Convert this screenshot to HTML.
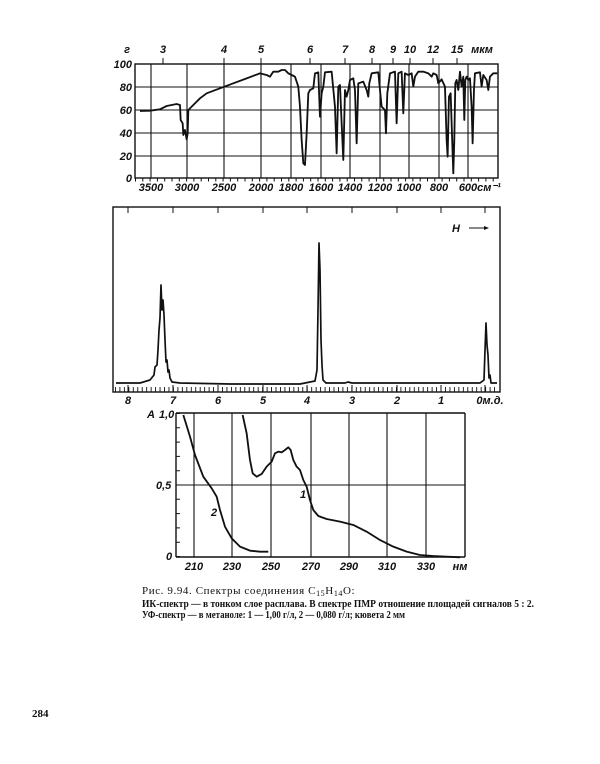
<!DOCTYPE html>
<html><head><meta charset="utf-8"><style>
html,body{margin:0;padding:0;background:#fff}
svg{display:block}
text{font-family:"Liberation Sans",sans-serif;font-style:italic;font-size:11px;fill:#111;font-weight:bold}
.c{font-family:"Liberation Serif","Noto Serif CJK SC",serif;font-style:normal;font-weight:normal}
</style></head><body>
<svg width="600" height="764" viewBox="0 0 600 764" xmlns="http://www.w3.org/2000/svg">
<rect width="600" height="764" fill="#fff"/>
<!-- IR -->
<g stroke="#111" fill="none">
<rect x="135" y="64" width="363" height="114" stroke-width="1.4"/>
<g stroke-width="1.1">
<line x1="135" y1="87" x2="498" y2="87"/><line x1="135" y1="110" x2="498" y2="110"/>
<line x1="135" y1="133" x2="498" y2="133"/><line x1="135" y1="156" x2="498" y2="156"/>
<line x1="151" y1="64" x2="151" y2="178"/><line x1="187" y1="64" x2="187" y2="178"/>
<line x1="224" y1="64" x2="224" y2="178"/><line x1="261" y1="64" x2="261" y2="178"/>
<line x1="291" y1="64" x2="291" y2="178"/><line x1="321" y1="64" x2="321" y2="178"/>
<line x1="350" y1="64" x2="350" y2="178"/><line x1="380" y1="64" x2="380" y2="178"/>
<line x1="409" y1="64" x2="409" y2="178"/><line x1="439" y1="64" x2="439" y2="178"/>
<line x1="468" y1="64" x2="468" y2="178"/>
</g>
<g stroke-width="1">
<line x1="163" y1="58" x2="163" y2="64"/><line x1="224" y1="58" x2="224" y2="64"/>
<line x1="261" y1="58" x2="261" y2="64"/><line x1="310" y1="58" x2="310" y2="64"/>
<line x1="345" y1="58" x2="345" y2="64"/><line x1="372" y1="58" x2="372" y2="64"/>
<line x1="393" y1="58" x2="393" y2="64"/><line x1="410" y1="58" x2="410" y2="64"/>
<line x1="433" y1="58" x2="433" y2="64"/><line x1="457" y1="58" x2="457" y2="64"/>
</g>
<line x1="135" y1="180" x2="498" y2="180" stroke-width="3" stroke-dasharray="1 6.3"/>
<polyline transform="translate(100,40) scale(0.3333)" stroke-width="5.5" stroke-linejoin="round" points="120,213 150,212 180,208 200,198 230,192 240,195 242,240 248,250 250,285 255,270 260,298 263,280 265,210 275,200 290,185 300,175 320,160 360,145 400,130 440,115 480,100 500,105 510,110 520,95 535,95 545,90 555,90 565,100 575,105 585,110 595,140 600,200 605,300 610,370 615,375 620,280 625,160 630,150 640,145 645,100 655,97 660,230 665,160 670,140 675,97 695,95 705,200 710,340 715,140 720,135 725,250 730,360 735,150 740,170 745,150 750,120 760,115 765,150 770,310 775,130 790,125 800,150 805,170 808,130 815,100 835,97 840,150 845,200 855,210 858,280 862,160 870,100 885,95 890,250 895,100 905,95 910,220 915,100 925,105 935,100 940,140 945,110 955,95 970,95 985,100 995,110 1000,100 1010,105 1015,130 1025,118 1035,140 1040,300 1043,350 1047,170 1052,160 1055,250 1060,400 1063,300 1066,130 1070,120 1075,150 1080,95 1085,140 1090,110 1093,240 1096,120 1100,110 1105,120 1110,115 1115,200 1118,310 1122,150 1125,100 1140,97 1145,140 1150,105 1160,120 1165,150 1170,110 1180,100 1192,100"/>
</g>
<g text-anchor="end">
<text x="132" y="68">100</text><text x="132" y="91">80</text><text x="132" y="114">60</text>
<text x="132" y="137">40</text><text x="132" y="160">20</text><text x="132" y="182">0</text>
</g>
<g text-anchor="middle">
<text x="127" y="53">г</text><text x="163" y="53">3</text><text x="224" y="53">4</text><text x="261" y="53">5</text>
<text x="310" y="53">6</text><text x="345" y="53">7</text><text x="372" y="53">8</text><text x="393" y="53">9</text>
<text x="410" y="53">10</text><text x="433" y="53">12</text><text x="457" y="53">15</text><text x="482" y="53">мкм</text>
<text x="151" y="191">3500</text><text x="187" y="191">3000</text><text x="224" y="191">2500</text>
<text x="261" y="191">2000</text><text x="291" y="191">1800</text><text x="321" y="191">1600</text>
<text x="350" y="191">1400</text><text x="380" y="191">1200</text><text x="409" y="191">1000</text>
<text x="439" y="191">800</text><text x="468" y="191">600</text><text x="489" y="191">см⁻¹</text>
</g>
<!-- NMR -->
<g stroke="#111" fill="none">
<rect x="113" y="207" width="387" height="185" stroke-width="1.4"/>
<g stroke-width="1">
<line x1="128" y1="392" x2="128" y2="385"/><line x1="173" y1="392" x2="173" y2="385"/>
<line x1="218" y1="392" x2="218" y2="385"/><line x1="263" y1="392" x2="263" y2="385"/>
<line x1="307" y1="392" x2="307" y2="385"/><line x1="352" y1="392" x2="352" y2="385"/>
<line x1="397" y1="392" x2="397" y2="385"/><line x1="441" y1="392" x2="441" y2="385"/>
<line x1="485" y1="392" x2="485" y2="385"/>
<line x1="128" y1="207" x2="128" y2="213"/><line x1="173" y1="207" x2="173" y2="213"/>
<line x1="218" y1="207" x2="218" y2="213"/><line x1="263" y1="207" x2="263" y2="213"/>
<line x1="307" y1="207" x2="307" y2="213"/><line x1="352" y1="207" x2="352" y2="213"/>
<line x1="397" y1="207" x2="397" y2="213"/><line x1="441" y1="207" x2="441" y2="213"/>
<line x1="485" y1="207" x2="485" y2="213"/>
<line x1="469" y1="228" x2="484" y2="228"/>
</g>
<line x1="115" y1="389.5" x2="498" y2="389.5" stroke-width="5" stroke-dasharray="0.9 3.56"/>
<polyline stroke-width="1.7" stroke-linejoin="round" points="116,383 140,383 150,380 154,375 155,367 157,365 158,350 159,330 160,318 161,285 162,310 163,300 164,315 165,340 166,362 167,360 168,372 169,370 170,378 172,382 180,383 230,384 300,384 315,381 317,370 318,310 319,243 320,270 321,340 322,365 323,380 326,383 345,383 348,382 352,383 480,383 484,380 485,350 486,323 487,345 488,355 489,378 490,375 491,383 497,383"/>
</g>
<text x="452" y="232" font-size="10">H</text>
<polygon points="484,226 489,228 484,230" fill="#111"/>
<g text-anchor="middle">
<text x="128" y="404">8</text><text x="173" y="404">7</text><text x="218" y="404">6</text>
<text x="263" y="404">5</text><text x="307" y="404">4</text><text x="352" y="404">3</text>
<text x="397" y="404">2</text><text x="441" y="404">1</text><text x="490" y="404">0м.д.</text>
</g>
<!-- UV -->
<g stroke="#111" fill="none">
<line x1="176" y1="413" x2="176" y2="557" stroke-width="1.4"/>
<line x1="176" y1="413" x2="465" y2="413" stroke-width="1.4"/>
<line x1="465" y1="413" x2="465" y2="557" stroke-width="1.4"/>
<line x1="176" y1="557" x2="465" y2="557" stroke-width="1.4"/>
<line x1="176" y1="485" x2="465" y2="485" stroke-width="1.1"/>
<g stroke-width="1.1">
<line x1="194" y1="413" x2="194" y2="557"/><line x1="232" y1="413" x2="232" y2="557"/>
<line x1="271" y1="413" x2="271" y2="557"/><line x1="311" y1="413" x2="311" y2="557"/>
<line x1="349" y1="413" x2="349" y2="557"/><line x1="387" y1="413" x2="387" y2="557"/>
<line x1="426" y1="413" x2="426" y2="557"/>
</g>
<line x1="178" y1="413" x2="178" y2="557" stroke-width="4" stroke-dasharray="1 13.3"/>
<g transform="translate(100,400) scale(0.3333)" stroke-width="5.5" stroke-linejoin="round">
<polyline points="250,45 270,110 285,165 310,230 335,265 350,290 360,330 375,380 395,415 420,440 450,452 480,455 505,455"/>
<polyline points="428,45 440,100 450,180 458,220 470,230 485,222 500,200 515,185 525,160 535,155 545,157 555,150 565,142 572,150 580,180 590,200 600,210 610,240 620,260 630,300 640,330 655,348 680,357 720,365 760,375 800,395 840,420 880,440 920,455 960,465 1000,468 1080,472"/>
</g>
</g>
<text x="147" y="418">A</text><text x="159" y="418">1,0</text>
<text x="156" y="489">0,5</text><text x="166" y="560">0</text>
<text x="211" y="516">2</text><text x="300" y="498">1</text>
<g text-anchor="middle">
<text x="194" y="570">210</text><text x="232" y="570">230</text><text x="271" y="570">250</text>
<text x="311" y="570">270</text><text x="349" y="570">290</text><text x="387" y="570">310</text>
<text x="426" y="570">330</text><text x="460" y="570">нм</text>
</g>
<!-- caption -->
<text class="c" x="142" y="594" font-size="12.5" letter-spacing="0.6">Рис. 9.94. Спектры   соединения C<tspan font-size="8" dy="2">15</tspan><tspan dy="-2">H</tspan><tspan font-size="8" dy="2">14</tspan><tspan dy="-2">O:</tspan></text>
<text class="c" x="142" y="607" font-size="8.6" style="font-weight:bold" textLength="392" lengthAdjust="spacingAndGlyphs">ИК-спектр — в тонком слое расплава. В спектре ПМР отношение площадей сигналов 5 : 2.</text>
<text class="c" x="142" y="618" font-size="8.6" style="font-weight:bold" textLength="263" lengthAdjust="spacingAndGlyphs">УФ-спектр — в метаноле: 1 — 1,00 г/л, 2 — 0,080 г/л; кювета 2 мм</text>
<text class="c" x="32" y="717" font-size="12" style="font-weight:bold">284</text>
</svg>
</body></html>
